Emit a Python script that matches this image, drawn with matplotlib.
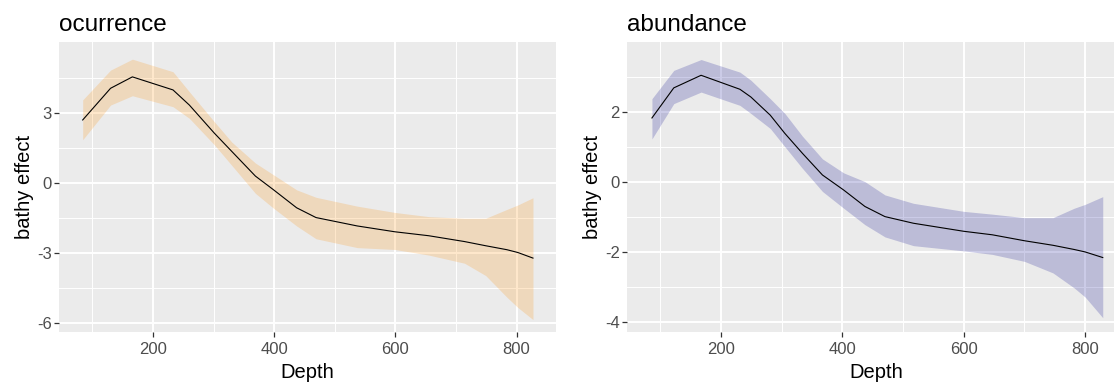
import matplotlib
matplotlib.use("Agg")
import matplotlib.pyplot as plt

plt.rcParams['font.family'] = ['Liberation Sans', 'DejaVu Sans']
plt.rcParams['axes.unicode_minus'] = False

# --- ocurrence panel ---
occ_depth = [84, 130, 166, 233, 260, 301, 330, 369, 398, 437, 469, 537, 599, 655, 714, 749, 784, 802, 827]
occ_fit = [2.70, 4.06, 4.55, 3.99, 3.34, 2.14, 1.35, 0.29, -0.28, -1.07, -1.49, -1.85, -2.10, -2.27, -2.52, -2.70, -2.87, -2.99, -3.23]
occ_upper = [3.56, 4.84, 5.31, 4.77, 3.91, 2.63, 1.75, 0.85, 0.36, -0.30, -0.62, -1.00, -1.27, -1.45, -1.52, -1.52, -1.14, -0.95, -0.64]
occ_lower = [1.85, 3.34, 3.74, 3.27, 2.77, 1.64, 0.75, -0.45, -1.07, -1.85, -2.40, -2.78, -2.86, -3.10, -3.45, -3.98, -4.91, -5.35, -5.87]

# --- abundance panel ---
abu_depth = [86, 122, 167, 231, 249, 281, 305, 334, 367, 402, 437, 470, 517, 600, 647, 700, 747, 782, 800, 829]
abu_fit = [1.82, 2.68, 3.04, 2.64, 2.42, 1.90, 1.38, 0.81, 0.19, -0.24, -0.71, -1.00, -1.19, -1.42, -1.52, -1.69, -1.82, -1.94, -2.01, -2.17]
abu_upper = [2.37, 3.18, 3.49, 3.13, 2.90, 2.37, 1.95, 1.30, 0.65, 0.25, 0.00, -0.38, -0.62, -0.85, -0.93, -1.03, -1.03, -0.76, -0.65, -0.43]
abu_lower = [1.22, 2.23, 2.56, 2.18, 1.95, 1.52, 1.00, 0.38, -0.28, -0.76, -1.23, -1.58, -1.83, -1.98, -2.08, -2.28, -2.61, -3.04, -3.30, -3.89]

x_ticks = [200, 400, 600, 800]
x_minor = [100, 300, 500, 700]
occ_yticks = [-6, -3, 0, 3]
occ_yminor = [-4.5, -1.5, 1.5, 4.5]
abu_yticks = [-4, -2, 0, 2]
abu_yminor = [-3, -1, 1, 3]

W, H = 1114, 388
fig = plt.figure(figsize=(W / 100, H / 100), dpi=100)


def gg_panel(rect, depth, fit, lo, hi, fill, title, yticks, yminor, ylim):
    ax = fig.add_axes(rect)
    ax.set_facecolor('#EBEBEB')
    for s in ax.spines.values():
        s.set_visible(False)
    for v in x_minor:
        ax.axvline(v, color='white', lw=0.7, zorder=0)
    for v in yminor:
        ax.axhline(v, color='white', lw=0.7, zorder=0)
    for v in x_ticks:
        ax.axvline(v, color='white', lw=1.4, zorder=0)
    for v in yticks:
        ax.axhline(v, color='white', lw=1.4, zorder=0)
    ax.fill_between(depth, lo, hi, color=fill, alpha=0.2, lw=0, zorder=1)
    ax.plot(depth, fit, color='black', lw=0.8, zorder=2)
    ax.set_xlim(45.4, 864.5)
    ax.set_ylim(*ylim)
    ax.set_xticks(x_ticks)
    ax.set_yticks(yticks)
    ax.tick_params(colors='#333333', labelcolor='#4D4D4D', labelsize=12, length=3.5, width=0.9, pad=2)
    ax.tick_params(axis='x', pad=4)
    ax.set_xlabel('Depth', fontsize=14.5, labelpad=4)
    ax.set_ylabel('bathy effect', fontsize=14.5, labelpad=2)
    ax.set_title(title, loc='left', fontsize=17.5, pad=8)
    return ax


bottom = (H - 331.7) / H
height = 290.0 / H
gg_panel([59.3 / W, bottom, 496.4 / W, height], occ_depth, occ_fit, occ_lower, occ_upper,
         'darkorange', 'ocurrence', occ_yticks, occ_yminor, (-6.39, 6.06))
gg_panel([627.3 / W, bottom, 497.0 / W, height], abu_depth, abu_fit, abu_lower, abu_upper,
         'darkblue', 'abundance', abu_yticks, abu_yminor, (-4.29, 4.0))

fig.savefig('out.png', dpi=100)
